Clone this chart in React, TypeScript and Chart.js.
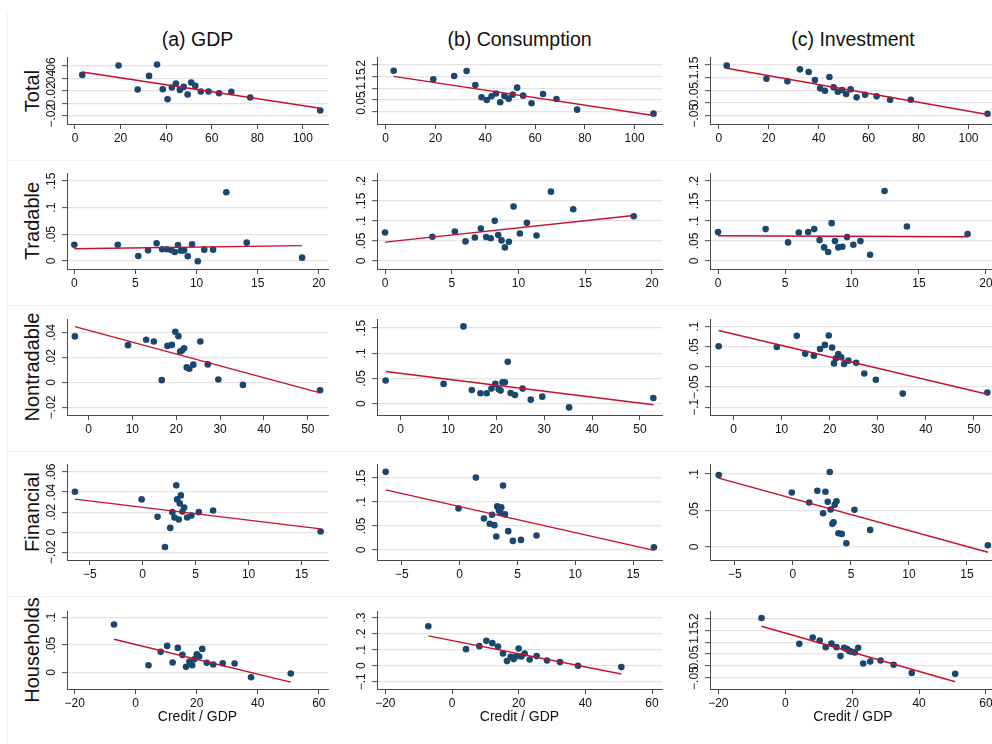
import React, { useEffect, useRef } from 'react';
import { Chart, registerables } from 'chart.js';

Chart.register(...registerables);

const FAMILY = '"Liberation Sans", Arial, Helvetica, sans-serif';
const NAVY = '#1a476f';
const RED = '#c8102e';
const AXIS = '#4a4a4a';
const GRID = '#e4e4e4';
const TEXT = '#111111';

// ---------- labels ----------
const colTitles = ['(a) GDP', '(b) Consumption', '(c) Investment'];
const rowLabels = ['Total', 'Tradable', 'Nontradable', 'Financial', 'Households'];
const xAxisTitle = 'Credit / GDP';

// ---------- Total ----------
const xTotal = [3.2, 19.1, 27.5, 32.5, 36.0, 38.5, 40.6, 42.5, 44.3, 46.0, 47.7, 49.4, 51.0, 52.8, 55.2, 58.6, 63.2, 68.6, 76.9, 107.6];
const totalGDP = [0.0453, 0.0603, 0.0219, 0.0437, 0.0619, 0.0224, 0.0064, 0.0251, 0.0315, 0.0213, 0.0261, 0.0139, 0.0331, 0.0277, 0.0187, 0.0187, 0.016, 0.0181, 0.0091, -0.0117];
const totalCons = [0.1755, 0.138, 0.1525, 0.174, 0.1137, 0.0604, 0.0489, 0.0647, 0.077, 0.0388, 0.0662, 0.0547, 0.0719, 0.1022, 0.0676, 0.0345, 0.0748, 0.0532, 0.0072, -0.0101];
const totalInv = [0.1474, 0.096, 0.0855, 0.1329, 0.1224, 0.0908, 0.0579, 0.0487, 0.1026, 0.0618, 0.0447, 0.0513, 0.0355, 0.0539, 0.0224, 0.0329, 0.0263, 0.0132, 0.0132, -0.0421];
const fitTotalGDP = [0.050, -0.008];
const fitTotalCons = [0.151, -0.018];
const fitTotalInv = [0.137, -0.045];

// ---------- Tradable ----------
const xTradable = [0, 3.55, 5.23, 6.03, 6.73, 7.18, 7.58, 7.92, 8.22, 8.48, 8.73, 8.98, 9.28, 9.63, 10.1, 10.63, 11.35, 12.43, 14.1, 18.63];
const tradGDP = [0.0306, 0.0306, 0.0094, 0.02, 0.0331, 0.0219, 0.0219, 0.0206, 0.0169, 0.03, 0.0194, 0.02, 0.0088, 0.0313, -0.0006, 0.0213, 0.0213, 0.1288, 0.0344, 0.0063];
const tradCons = [0.0714, 0.0606, 0.0739, 0.049, 0.0589, 0.0813, 0.0598, 0.0568, 0.1004, 0.0647, 0.0515, 0.034, 0.0481, 0.1361, 0.0689, 0.0954, 0.0639, 0.1734, 0.1295, 0.112];
const tradInv = [0.0722, 0.0797, 0.0465, 0.0714, 0.0722, 0.0797, 0.0523, 0.034, 0.0224, 0.0946, 0.0498, 0.034, 0.0357, 0.0598, 0.0407, 0.0498, 0.0158, 0.1751, 0.0863, 0.0672];
const fitTradGDP = [0.023, 0.0288];
const fitTradCons = [0.0473, 0.1137];
const fitTradInv = [0.063, 0.0606];

// ---------- Nontradable ----------
const xNontradable = [-3.1, 9.0, 13.15, 14.9, 16.7, 18.0, 19.0, 19.8, 20.5, 20.9, 21.3, 21.8, 22.4, 23.0, 23.9, 25.5, 27.2, 29.6, 35.2, 52.8];
const nontGDP = [0.0369, 0.0299, 0.0342, 0.0328, 0.0019, 0.0293, 0.0301, 0.0406, 0.0371, 0.0248, 0.0256, 0.0274, 0.0121, 0.011, 0.0143, 0.0328, 0.0145, 0.0024, -0.0019, -0.0062];
const nontCons = [0.046, 0.0393, 0.1533, 0.0273, 0.0207, 0.0207, 0.03, 0.0393, 0.0287, 0.026, 0.0427, 0.0427, 0.0833, 0.0213, 0.0173, 0.03, 0.008, 0.014, -0.0073, 0.0113];
const nontInv = [0.051, 0.0494, 0.0768, 0.0328, 0.0278, 0.0444, 0.0544, 0.0776, 0.0477, 0.0087, 0.0212, 0.032, 0.0237, 0.0071, 0.0154, 0.0104, -0.0162, -0.032, -0.066, -0.0635];
const fitNontGDP = [0.0447, -0.0083];
const fitNontCons = [0.064, -0.002];
const fitNontInv = [0.09, -0.0676];

// ---------- Financial ----------
const xFinancial = [-6.4, -0.1, 1.4, 2.1, 2.6, 2.8, 3.0, 3.17, 3.25, 3.4, 3.5, 3.6, 3.75, 3.92, 4.2, 4.6, 5.3, 6.65, 16.8];
const finGDP = [0.0403, 0.0327, 0.0153, -0.0147, 0.0043, 0.02, 0.0147, 0.0467, 0.0327, 0.0127, 0.0287, 0.0367, 0.0207, 0.0247, 0.0147, 0.0167, 0.02, 0.0217, 0.0007];
const finCons = [0.1626, 0.0865, 0.1507, 0.0656, 0.0544, 0.0733, 0.0516, 0.0279, 0.0907, 0.0823, 0.0782, 0.0886, 0.134, 0.074, 0.0391, 0.0188, 0.0209, 0.03, 0.0056];
const finInv = [0.0986, 0.0748, 0.061, 0.0771, 0.0463, 0.0757, 0.0619, 0.1028, 0.0514, 0.0317, 0.0339, 0.0578, 0.0628, 0.0188, 0.0179, 0.005, 0.0509, 0.0234, 0.0023];
const fitFinGDP = [0.033, 0.0033];
const fitFinCons = [0.125, -0.001];
const fitFinInv = [0.0945, -0.0073];

// ---------- Households ----------
const xHouseholds = [-7.1, 4.2, 8.2, 10.3, 12.1, 13.8, 15.3, 16.5, 17.6, 18.5, 19.2, 20.0, 20.8, 21.8, 23.3, 25.4, 28.5, 32.4, 37.8, 50.8];
const hhGDP = [0.0873, 0.0133, 0.0376, 0.0485, 0.0182, 0.0448, 0.0321, 0.0103, 0.02, 0.0133, 0.0242, 0.0333, 0.0291, 0.043, 0.0176, 0.0145, 0.017, 0.0164, -0.0085, -0.0018];
const hhCons = [0.2466, 0.1036, 0.1223, 0.1554, 0.1409, 0.1202, 0.0767, 0.029, 0.056, 0.0415, 0.058, 0.1078, 0.058, 0.0767, 0.0394, 0.0601, 0.0332, 0.0228, 0, -0.0083];
const hhInv = [0.2014, 0.093, 0.1194, 0.1069, 0.0792, 0.0944, 0.0792, 0.0417, 0.0764, 0.0708, 0.0625, 0.0597, 0.0569, 0.0764, 0.0111, 0.0194, 0.0236, 0.0056, -0.0292, -0.0319];
const fitHhGDP = [0.0606, -0.0176];
const fitHhCons = [0.1865, -0.0518];
const fitHhInv = [0.1667, -0.0653];

// ---------- axes: x ticks and ranges per row ----------
const xTicksTotal = [0, 20, 40, 60, 80, 100];
const xTicksTradable = [0, 5, 10, 15, 20];
const xTicksNontradable = [0, 10, 20, 30, 40, 50];
const xTicksFinancial = [-5, 0, 5, 10, 15];
const xTicksHouseholds = [-20, 0, 20, 40, 60];
const xRangeTotal = [-3.5, 111];
const xRangeTradable = [-0.6, 20.75];
const xRangeNontradable = [-4.9, 54.6];
const xRangeFinancial = [-7.15, 17.5];
const xRangeHouseholds = [-22.5, 63];

// ---------- axes: y ticks and ranges per panel ----------
const yTicksTotalGDP = [-0.02, 0, 0.02, 0.04, 0.06];
const yTicksTotalCons = [0, 0.05, 0.1, 0.15, 0.2];
const yTicksTotalInv = [-0.05, 0, 0.05, 0.1, 0.15];
const yTicksTradGDP = [0, 0.05, 0.1, 0.15];
const yTicksTradCons = [0, 0.05, 0.1, 0.15, 0.2];
const yTicksTradInv = [0, 0.05, 0.1, 0.15, 0.2];
const yTicksNontGDP = [-0.02, 0, 0.02, 0.04];
const yTicksNontCons = [0, 0.05, 0.1, 0.15];
const yTicksNontInv = [-0.1, -0.05, 0, 0.05, 0.1];
const yTicksFinGDP = [-0.02, 0, 0.02, 0.04, 0.06];
const yTicksFinCons = [0, 0.05, 0.1, 0.15];
const yTicksFinInv = [0, 0.05, 0.1];
const yTicksHhGDP = [0, 0.05, 0.1];
const yTicksHhCons = [-0.1, 0, 0.1, 0.2, 0.3];
const yTicksHhInv = [-0.05, 0, 0.05, 0.1, 0.15, 0.2];

const yRangeTotalGDP = [-0.0333, 0.0739];
const yRangeTotalCons = [-0.0549, 0.2346];
const yRangeTotalInv = [-0.0827, 0.1816];
const yRangeTradGDP = [-0.015, 0.165];
const yRangeTradCons = [-0.02, 0.22];
const yRangeTradInv = [-0.02, 0.22];
const yRangeNontGDP = [-0.026, 0.0508];
const yRangeNontCons = [-0.0224, 0.168];
const yRangeNontInv = [-0.119, 0.1185];
const yRangeFinGDP = [-0.0277, 0.068];
const yRangeFinCons = [-0.021, 0.179];
const yRangeFinInv = [-0.0179, 0.1138];
const yRangeHhGDP = [-0.03, 0.112];
const yRangeHhCons = [-0.145, 0.3416];
const yRangeHhInv = [-0.0958, 0.2304];

// ---------- layout (page pixels) ----------
const COL_L = [67, 377, 710];
const COL_R = [328, 662, 996];
const ROW_T = [57, 173, 319, 464, 611];
const ROW_B = [124, 269, 415, 560, 689];

type PanelSpec = {
  row: number; col: number;
  xs: number[]; ys: number[]; fit: number[];
  xTicks: number[]; yTicks: number[];
  xRange: number[]; yRange: number[];
};

const rowsX = [
  { xs: xTotal, xTicks: xTicksTotal, xRange: xRangeTotal },
  { xs: xTradable, xTicks: xTicksTradable, xRange: xRangeTradable },
  { xs: xNontradable, xTicks: xTicksNontradable, xRange: xRangeNontradable },
  { xs: xFinancial, xTicks: xTicksFinancial, xRange: xRangeFinancial },
  { xs: xHouseholds, xTicks: xTicksHouseholds, xRange: xRangeHouseholds },
];
const rowsY = [
  [[totalGDP, fitTotalGDP, yTicksTotalGDP, yRangeTotalGDP], [totalCons, fitTotalCons, yTicksTotalCons, yRangeTotalCons], [totalInv, fitTotalInv, yTicksTotalInv, yRangeTotalInv]],
  [[tradGDP, fitTradGDP, yTicksTradGDP, yRangeTradGDP], [tradCons, fitTradCons, yTicksTradCons, yRangeTradCons], [tradInv, fitTradInv, yTicksTradInv, yRangeTradInv]],
  [[nontGDP, fitNontGDP, yTicksNontGDP, yRangeNontGDP], [nontCons, fitNontCons, yTicksNontCons, yRangeNontCons], [nontInv, fitNontInv, yTicksNontInv, yRangeNontInv]],
  [[finGDP, fitFinGDP, yTicksFinGDP, yRangeFinGDP], [finCons, fitFinCons, yTicksFinCons, yRangeFinCons], [finInv, fitFinInv, yTicksFinInv, yRangeFinInv]],
  [[hhGDP, fitHhGDP, yTicksHhGDP, yRangeHhGDP], [hhCons, fitHhCons, yTicksHhCons, yRangeHhCons], [hhInv, fitHhInv, yTicksHhInv, yRangeHhInv]],
];

const panels: PanelSpec[] = [];
rowsX.forEach((rx, row) => {
  rowsY[row].forEach((cy, col) => {
    panels.push({
      row, col, xs: rx.xs, xTicks: rx.xTicks, xRange: rx.xRange,
      ys: cy[0], fit: cy[1], yTicks: cy[2], yRange: cy[3],
    });
  });
});

function fmt(v: number): string {
  if (Math.abs(v) < 1e-9) return '0';
  let s = String(Number(v.toFixed(4)));
  s = s.replace(/^(-?)0\./, '$1.');
  return s.replace('-', '\u2212');
}

const TICK_FONT = 12;
const PAD_L = 45;
const PAD_T = 14;
const PAD_R = 6;

function Panel({ spec }: { spec: PanelSpec }) {
  const ref = useRef<HTMLCanvasElement>(null);
  const { row, col } = spec;
  const last = row === 4;
  const padB = last ? 37 : 30;
  const L = COL_L[col], R = COL_R[col], T = ROW_T[row], B = ROW_B[row];
  const w = R - L + PAD_L + PAD_R;
  const h = B - T + PAD_T + padB;

  useEffect(() => {
    if (!ref.current) return;
    const m = document.createElement('canvas').getContext('2d')!;
    m.font = `normal ${TICK_FONT}px ${FAMILY}`;
    const widest = Math.max(...spec.yTicks.map((v) => m.measureText(fmt(v)).width));
    const yPad = 15.3 - 5 - widest / 2;
    const xmin = Math.min(...spec.xs);
    const xmax = Math.max(...spec.xs);
    const chart = new Chart(ref.current, {
      type: 'scatter',
      data: {
        datasets: [
          {
            data: [{ x: xmin, y: spec.fit[0] }, { x: xmax, y: spec.fit[1] }],
            showLine: true,
            borderColor: RED,
            borderWidth: 1.4,
            pointRadius: 0,
            fill: false,
          },
          {
            data: spec.xs.map((x, i) => ({ x, y: spec.ys[i] })),
            pointRadius: 3.3,
            pointBackgroundColor: NAVY,
            pointBorderWidth: 0,
            borderColor: NAVY,
          },
        ],
      } as any,
      options: {
        animation: false,
        responsive: false,
        maintainAspectRatio: false,
        devicePixelRatio: 1,
        events: [],
        layout: { padding: { left: 0, top: PAD_T, right: PAD_R, bottom: 0 } },
        plugins: { legend: { display: false }, tooltip: { enabled: false }, title: { display: false } },
        scales: {
          x: {
            type: 'linear',
            min: spec.xRange[0],
            max: spec.xRange[1],
            afterBuildTicks: (s: any) => { s.ticks = spec.xTicks.map((v) => ({ value: v })); },
            afterFit: (s: any) => { s.height = padB; },
            grid: { display: true, drawOnChartArea: false, drawTicks: true, tickLength: 5, tickColor: AXIS, tickWidth: 1 },
            border: { display: true, color: AXIS, width: 1 },
            ticks: {
              autoSkip: false, maxRotation: 0, minRotation: 0, padding: 2,
              color: TEXT, font: { family: FAMILY, size: TICK_FONT },
              callback: (v: any) => fmt(Number(v)),
            },
            title: last
              ? { display: true, text: xAxisTitle, color: TEXT, font: { family: FAMILY, size: 14 }, padding: { top: 0, bottom: 0 } }
              : { display: false },
          },
          y: {
            type: 'linear',
            min: spec.yRange[0],
            max: spec.yRange[1],
            afterBuildTicks: (s: any) => { s.ticks = spec.yTicks.map((v) => ({ value: v })); },
            afterFit: (s: any) => { s.width = PAD_L; },
            grid: { display: true, drawOnChartArea: true, drawTicks: true, tickLength: 5, color: GRID, lineWidth: 1.3, tickColor: AXIS, tickWidth: 1 },
            border: { display: true, color: AXIS, width: 1 },
            ticks: {
              autoSkip: false, minRotation: 90, maxRotation: 90, crossAlign: 'center', padding: yPad,
              color: TEXT, font: { family: FAMILY, size: TICK_FONT },
              callback: (v: any) => fmt(Number(v)),
            },
          },
        },
      } as any,
    });
    return () => chart.destroy();
  }, []);

  return (
    <canvas
      ref={ref}
      width={w}
      height={h}
      style={{ position: 'absolute', left: L - PAD_L, top: T - PAD_T, width: w, height: h }}
    />
  );
}

export default function App() {
  const rowCenters = ROW_T.map((t, i) => (t + ROW_B[i]) / 2);
  const colCenters = COL_L.map((l, i) => (l + COL_R[i]) / 2);
  const sepYs = [160, 305, 451, 596];
  return (
    <div style={{ position: 'fixed', left: 0, top: 0, width: 992, height: 744, overflow: 'hidden', background: '#fff', fontFamily: FAMILY }}>
      {sepYs.map((y) => (
        <div key={y} style={{ position: 'absolute', left: 7, top: y, width: 985, height: 1, background: '#f1f1f1' }} />
      ))}
      <div style={{ position: 'absolute', left: 7, top: 13, width: 1, height: 731, background: '#f1f1f1' }} />
      {colTitles.map((t, i) => (
        <div key={t} style={{ position: 'absolute', left: colCenters[i], top: 40, transform: 'translate(-50%, -50%)', fontSize: 19.5, color: TEXT, whiteSpace: 'nowrap', lineHeight: 1 }}>{t}</div>
      ))}
      {rowLabels.map((t, i) => (
        <div key={t} style={{ position: 'absolute', left: 32, top: rowCenters[i], transform: 'translate(-50%, -50%) rotate(-90deg)', fontSize: 20, color: TEXT, whiteSpace: 'nowrap', lineHeight: 1 }}>{t}</div>
      ))}
      {panels.map((p) => (
        <Panel key={`${p.row}-${p.col}`} spec={p} />
      ))}
    </div>
  );
}
